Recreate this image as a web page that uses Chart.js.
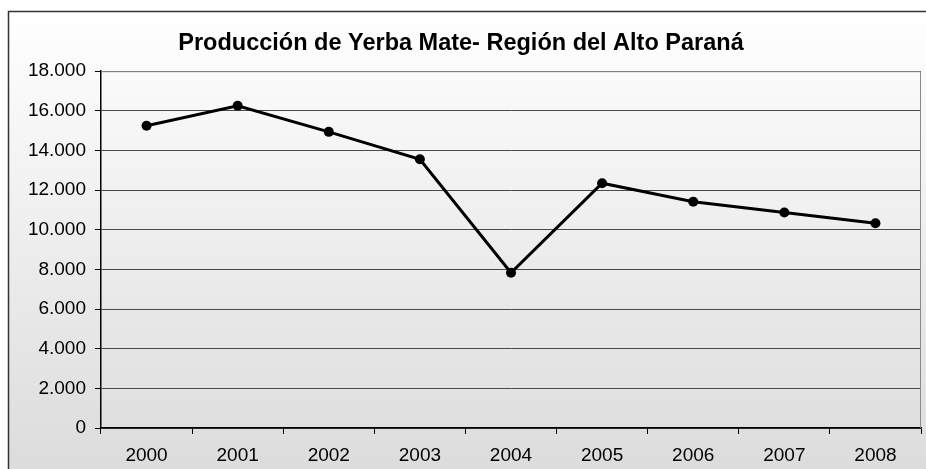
<!DOCTYPE html>
<html>
<head>
<meta charset="utf-8">
<script src="https://cdn.jsdelivr.net/npm/chart.js@4.4.1/dist/chart.umd.min.js"></script>
<style>
    body { margin: 0; background: #ffffff; }
    #wrap { position: relative; width: 926px; height: 469px; }
</style>
</head>
<body>
<div id="wrap"><canvas id="yerbaChart"></canvas></div>
<script>
// Data
const years = ['2000', '2001', '2002', '2003', '2004', '2005', '2006', '2007', '2008'];
const production = [15250, 16260, 14940, 13560, 7830, 12350, 11410, 10870, 10330];
const yTicks = [0, 2000, 4000, 6000, 8000, 10000, 12000, 14000, 16000, 18000];

const chartTitle = 'Producción de Yerba Mate- Región del Alto Paraná';

// Format numbers with a dot as thousands separator (18.000)
function formatThousands(value) {
    return String(value).replace(/\B(?=(\d{3})+(?!\d))/g, '.');
}

// Background gradient, outer frame and plot frame
const framePlugin = {
    id: 'framePlugin',
    beforeDraw(chart) {
        const ctx = chart.ctx;
        const w = chart.width;
        const h = chart.height;
        ctx.save();
        const grad = ctx.createLinearGradient(0, 11, 0, h);
        grad.addColorStop(0, '#ffffff');
        grad.addColorStop(1, '#dcdcdc');
        ctx.fillStyle = grad;
        ctx.fillRect(8, 11, w - 8, h - 11);
        ctx.strokeStyle = '#333333';
        ctx.lineWidth = 1.5;
        ctx.strokeRect(8.5, 11.5, w + 10, h + 10);
        ctx.restore();
    },
    afterDatasetsDraw(chart) {
        const { left, right, top, bottom } = chart.chartArea;
        const ctx = chart.ctx;
        ctx.save();
        ctx.strokeStyle = '#8a8a8a';
        ctx.lineWidth = 1;
        ctx.beginPath();
        ctx.moveTo(left, top + 0.5);
        ctx.lineTo(right - 0.5, top + 0.5);
        ctx.lineTo(right - 0.5, bottom);
        ctx.stroke();
        ctx.restore();
    }
};

const ctx = document.getElementById('yerbaChart').getContext('2d');

new Chart(ctx, {
    type: 'line',
    data: {
        labels: years,
        datasets: [{
            label: 'Producción',
            data: production,
            borderColor: '#000000',
            backgroundColor: '#000000',
            borderWidth: 3,
            pointRadius: 5,
            pointBackgroundColor: '#000000',
            pointBorderWidth: 0,
            tension: 0,
        }],
    },
    options: {
        responsive: true,
        maintainAspectRatio: false,
        animation: false,
        layout: {
            padding: { top: 0, right: 4, bottom: 0, left: 0 },
        },
        plugins: {
            legend: { display: false },
            tooltip: { enabled: false },
            title: {
                display: true,
                text: chartTitle,
                color: '#000000',
                font: { family: 'Liberation Sans, Arial, sans-serif', size: 23.5, weight: 'bold' },
                padding: { top: 29, bottom: 14 },
            },
        },
        scales: {
            x: {
                offset: true,
                grid: {
                    offset: true,
                    drawOnChartArea: false,
                    tickLength: 6,
                    tickColor: '#000000',
                },
                border: { color: '#000000', width: 1.5 },
                ticks: {
                    color: '#000000',
                    padding: 10,
                    maxRotation: 0,
                    font: { family: 'Liberation Sans, Arial, sans-serif', size: 19 },
                },
                afterFit(scale) {
                    scale.height = 41;
                },
            },
            y: {
                min: 0,
                max: 18000,
                afterBuildTicks(scale) {
                    scale.ticks = yTicks.map(v => ({ value: v }));
                },
                grid: {
                    color: '#4a4a4a',
                    tickLength: 6,
                    tickColor: '#000000',
                },
                border: { color: '#000000', width: 1.5 },
                ticks: {
                    color: '#000000',
                    padding: 9,
                    font: { family: 'Liberation Sans, Arial, sans-serif', size: 19 },
                    callback: (value) => formatThousands(value),
                },
                afterFit(scale) {
                    scale.width = 101;
                },
            },
        },
    },
    plugins: [framePlugin],
});
</script>
</body>
</html>
